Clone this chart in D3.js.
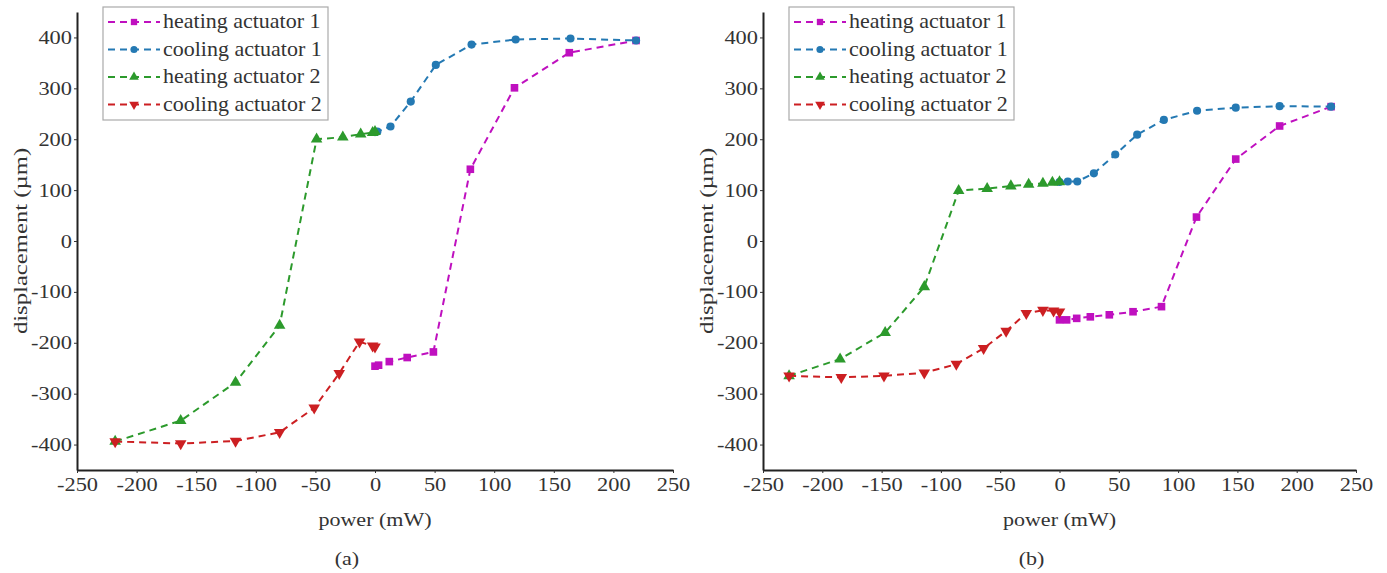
<!DOCTYPE html>
<html>
<head>
<meta charset="utf-8">
<script src="https://cdn.jsdelivr.net/npm/d3@7"></script>
<style>
body { margin: 0; background: #fff; }
text { font-family: "Liberation Serif", "Times New Roman", serif; fill: #333; }
.tick text { font-size: 19px; transform-box: fill-box; transform: scaleX(1.18); }
.axis--y .tick text { transform-origin: right center; }
.axis--x .tick text { transform-origin: center; }
.legend text { font-size: 20px; transform-box: fill-box; transform-origin: left center; transform: scaleX(1.1); }
.xlabel { transform-box: fill-box; transform-origin: center; transform: scaleX(1.16); }
</style>
</head>
<body>
<svg width="1387" height="573"></svg>
<script>
// measured displacement vs. power, panel (a)
var heating1A = [[0,-246],[3,-244],[12,-237],[27,-229],[49,-218],[80,141],[117,301],[163,370],[219,394]];
var cooling1A = [[0,214],[2,215],[13,225],[30,274],[51,346],[81,386],[118,396],[164,398],[219,394]];
var heating2A = [[-218,-394],[-163,-353],[-117,-278],[-80,-166],[-49,200],[-27,204],[-12,210],[-2,213],[0,215]];
var cooling2A = [[-218,-394],[-163,-398],[-117,-393],[-80,-376],[-51,-328],[-30,-260],[-13,-198],[-2,-206],[0,-208]];

// panel (b)
var heating1B = [[0,-155],[6,-155],[14.5,-152],[26,-149],[42,-145],[62,-139],[86,-129],[115.5,47],[148.6,161],[185.6,226],[229,264]];
var cooling1B = [[0,116],[7,117],[15,117],[29,133],[47,170],[65.5,209],[88,238],[116,256],[148.6,262],[185.6,265],[229,264]];
var heating2B = [[-228,-265],[-185,-232],[-147,-180],[-114,-90],[-85,99],[-61,103],[-41,108],[-26,111],[-14,113],[-6,115],[0,116]];
var cooling2B = [[-228,-265],[-184,-268],[-148,-265],[-114,-259],[-87,-242],[-64,-211],[-45,-177],[-28,-142],[-14,-136],[-5,-137],[0,-139]];

var seriesNames = ["heating actuator 1", "cooling actuator 1", "heating actuator 2", "cooling actuator 2"];
var seriesColors = ["#bf10bf", "#2479b3", "#2c9a2c", "#cc1f22"];
var seriesSymbols = [d3.symbolSquare, d3.symbolCircle, d3.symbolTriangle, d3.symbolTriangle];
var seriesFlip = [false, false, false, true];

var xTicks = [-250, -200, -150, -100, -50, 0, 50, 100, 150, 200, 250];
var yTicks = [-400, -300, -200, -100, 0, 100, 200, 300, 400];

var svg = d3.select("svg");
var serif = "'Liberation Serif', 'Times New Roman', serif";

function plain(d) { return String(d); }   // hyphen minus, not the unicode one

function drawPanel(left, right, tag, data) {
  var top = 12, bottom = 470;
  var x = d3.scaleLinear().domain([-250, 250]).range([left, right]),
      y = d3.scaleLinear().domain([-450, 450]).range([bottom, top]);

  var g = svg.append("g");

  var line = d3.line()
    .x(function(d) { return x(d[0]); })
    .y(function(d) { return y(d[1]); });

  data.forEach(function(values, i) {
    var s = g.append("g").attr("class", "series");
    s.append("path")
      .attr("d", line(values))
      .attr("fill", "none")
      .attr("stroke", seriesColors[i])
      .attr("stroke-width", 2)
      .attr("stroke-dasharray", "7,5");
    s.selectAll("path.pt")
      .data(values)
      .enter().append("path")
        .attr("class", "pt")
        .attr("d", d3.symbol().type(seriesSymbols[i]).size(i == 1 ? 52 : 58))
        .attr("transform", function(d) {
          return "translate(" + x(d[0]) + "," + y(d[1]) + ")" + (seriesFlip[i] ? " rotate(180)" : "");
        })
        .attr("fill", seriesColors[i]);
  });

  g.append("g")
    .attr("class", "axis axis--x")
    .attr("transform", "translate(0," + bottom + ")")
    .call(d3.axisBottom(x).tickValues(xTicks).tickFormat(plain).tickSize(3).tickSizeOuter(0).tickPadding(5))
    .attr("font-family", serif)
    .attr("font-size", 19)
    .call(function(a) {
      a.select(".domain").attr("stroke", "#222").attr("stroke-width", 2);
      a.selectAll(".tick line").attr("stroke", "#333");
      a.selectAll(".tick text").attr("fill", "#333");
    });

  g.append("g")
    .attr("class", "axis axis--y")
    .attr("transform", "translate(" + left + ",0)")
    .call(d3.axisLeft(y).tickValues(yTicks).tickFormat(plain).tickSize(3).tickSizeOuter(0).tickPadding(2))
    .attr("font-family", serif)
    .attr("font-size", 19)
    .call(function(a) {
      a.select(".domain").attr("stroke", "#222").attr("stroke-width", 2);
      a.selectAll(".tick line").attr("stroke", "#333");
      a.selectAll(".tick text").attr("fill", "#333");
    });

  // axis titles
  g.append("text")
    .attr("transform", "translate(" + (left - 50) + "," + ((top + bottom) / 2) + ") rotate(-90) scale(1.3,1)")
    .attr("text-anchor", "middle")
    .style("font-size", "19px")
    .text("displacement (\u00b5m)");

  g.append("text")
    .attr("class", "xlabel")
    .attr("x", (left + right) / 2)
    .attr("y", 526)
    .attr("text-anchor", "middle")
    .style("font-size", "19px")
    .text("power (mW)");

  g.append("text")
    .attr("class", "xlabel")
    .attr("x", (left + right) / 2 - 28)
    .attr("y", 565)
    .attr("text-anchor", "middle")
    .style("font-size", "19px")
    .text(tag);

  // legend
  var lx = left + 26, ly = 7;
  var legend = g.append("g").attr("class", "legend");
  legend.append("rect")
    .attr("x", lx).attr("y", ly)
    .attr("width", 225).attr("height", 113)
    .attr("fill", "#fff")
    .attr("stroke", "#aaa")
    .attr("stroke-width", 1.2);

  seriesNames.forEach(function(name, i) {
    var cy = ly + 15 + i * 27.5;
    legend.append("line")
      .attr("x1", lx + 5).attr("x2", lx + 57)
      .attr("y1", cy).attr("y2", cy)
      .attr("stroke", seriesColors[i])
      .attr("stroke-width", 2)
      .attr("stroke-dasharray", "7,5");
    legend.append("path")
      .attr("d", d3.symbol().type(seriesSymbols[i]).size(40))
      .attr("transform", "translate(" + (lx + 31) + "," + cy + ")" + (seriesFlip[i] ? " rotate(180)" : ""))
      .attr("fill", seriesColors[i]);
    legend.append("text")
      .attr("x", lx + 60)
      .attr("y", cy)
      .attr("dy", "0.32em")
      .text(name);
  });
}

drawPanel(77, 673, "(a)", [heating1A, cooling1A, heating2A, cooling2A]);
drawPanel(763, 1356, "(b)", [heating1B, cooling1B, heating2B, cooling2B]);
</script>
</body>
</html>
